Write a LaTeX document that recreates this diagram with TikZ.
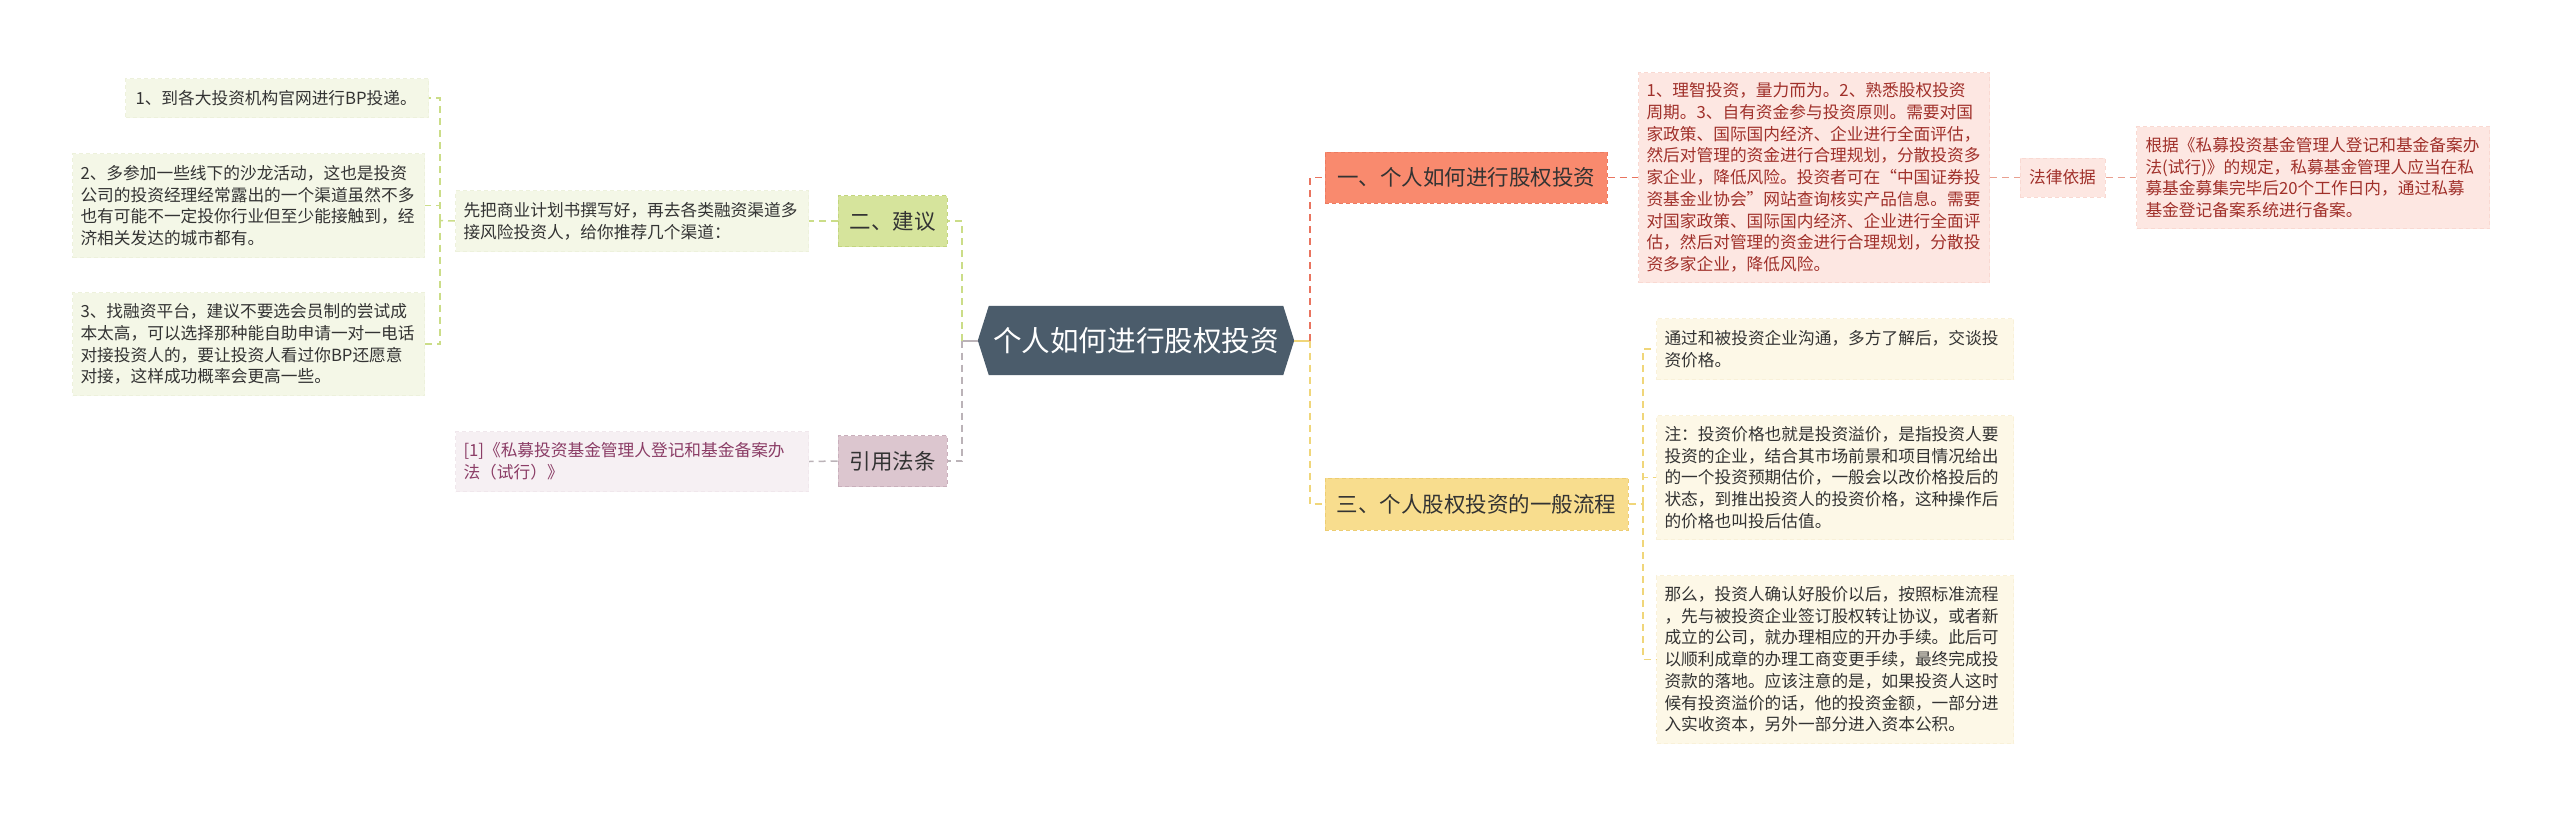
\documentclass[tikz,border=0pt]{standalone}
\usepackage{fontspec}
\newfontfamily\cjk{Noto Sans CJK SC}
\usetikzlibrary{backgrounds}
\definecolor{hexc}{HTML}{4B5C6B}
\definecolor{onec}{HTML}{F98A6E}
\definecolor{oneb}{HTML}{EC7A60}
\definecolor{pinkc}{HTML}{FDE7E2}
\definecolor{pinkb}{HTML}{F9D9D2}
\definecolor{pinkt}{HTML}{A0302A}
\definecolor{threec}{HTML}{F8DD8E}
\definecolor{threeb}{HTML}{EDCD72}
\definecolor{yelc}{HTML}{FDF8E7}
\definecolor{yelb}{HTML}{F9F1D9}
\definecolor{jyc}{HTML}{D6E49C}
\definecolor{jyb}{HTML}{C3D57E}
\definecolor{grnc}{HTML}{F4F7E7}
\definecolor{grnb}{HTML}{EDF1DC}
\definecolor{yyc}{HTML}{DCC6CF}
\definecolor{yyb}{HTML}{C9AFBB}
\definecolor{citc}{HTML}{F6F0F3}
\definecolor{citb}{HTML}{F0E7EC}
\definecolor{citt}{HTML}{8B3D66}
\definecolor{txt}{HTML}{333333}
\definecolor{cred}{HTML}{E9745F}
\definecolor{cgrn}{HTML}{CBDD88}
\definecolor{cgry}{HTML}{BBB3B8}
\definecolor{cyel}{HTML}{F0D67A}
\definecolor{cpnk}{HTML}{E9A090}
\tikzset{
  small/.style={font=\cjk\fontsize{16.7}{21.7}\selectfont, align=left, inner xsep=8pt, inner ysep=0pt, anchor=north west, text=txt},
  big/.style={font=\cjk\fontsize{21.5}{26}\selectfont, inner sep=0pt, text=txt, draw, dash pattern=on 4pt off 3pt, line width=1pt},
  conn/.style={line width=1.5pt, dash pattern=on 7pt off 5pt},
  bdr/.style={draw, dash pattern=on 4pt off 3pt, line width=1pt},
}
\begin{document}
\begin{tikzpicture}[x=1pt,y=-1pt]
\useasboundingbox (0,0) rectangle (2560,815);
\begin{scope}[on background layer]
\fill[white] (0,0) rectangle (2560,815);
\end{scope}

% centre
\node[font=\cjk\fontsize{28.6}{32}\selectfont, text=white, inner sep=0pt, minimum width=316pt, minimum height=69pt] (c) at (1136,340.5) {个人如何进行股权投资};
\begin{scope}[on background layer]
\fill[hexc] ([xshift=11pt]c.north west) -- ([xshift=-11pt]c.north east) -- (c.east) -- ([xshift=-11pt]c.south east) -- ([xshift=11pt]c.south west) -- (c.west) -- cycle;
\end{scope}
\coordinate (lt) at (962,340.5);
\coordinate (rt) at (1310,340.5);
\coordinate (lb) at (440,220.5);
\coordinate (yb) at (1643,504);

% left side
\node[big, fill=jyc, draw=jyb, minimum width=109pt, minimum height=51pt] (jy) at (892.5,221) {二、建议};
\node[big, fill=yyc, draw=yyb, minimum width=109pt, minimum height=51pt] (yy) at (892.5,461) {引用法条};
\node[small, fill=grnc, bdr, draw=grnb, text width=337pt, minimum height=61pt] (T) at (455,190) {先把商业计划书撰写好，再去各类融资渠道多\\接风险投资人，给你推荐几个渠道：};
\node[small, fill=citc, bdr, draw=citb, text=citt, text width=337pt, minimum height=60pt] (cite) at (455,431) {[1]《私募投资基金管理人登记和基金备案办\\法（试行）》};
\node[small, fill=grnc, bdr, draw=grnb, text width=283pt, minimum height=39pt, inner xsep=10pt] (L1) at (125,78) {1、到各大投资机构官网进行BP投递。};
\node[small, fill=grnc, bdr, draw=grnb, text width=336pt, minimum height=104pt] (L2) at (72,153) {2、多参加一些线下的沙龙活动，这也是投资\\公司的投资经理经常露出的一个渠道虽然不多\\也有可能不一定投你行业但至少能接触到，经\\济相关发达的城市都有。};
\node[small, fill=grnc, bdr, draw=grnb, text width=336pt, minimum height=103pt] (L3) at (72,292) {3、找融资平台，建议不要选会员制的尝试成\\本太高，可以选择那种能自助申请一对一电话\\对接投资人的，要让投资人看过你BP还愿意\\对接，这样成功概率会更高一些。};

% right side
\node[big, fill=onec, draw=oneb, minimum width=282pt, minimum height=51pt] (one) at (1466,177.5) {一、个人如何进行股权投资};
\node[big, fill=threec, draw=threeb, minimum width=303pt, minimum height=52pt] (three) at (1476.5,504) {三、个人股权投资的一般流程};
\node[small, fill=pinkc, bdr, draw=pinkb, text=pinkt, text width=335pt, minimum height=210pt] (pk) at (1638,72) {1、理智投资，量力而为。2、熟悉股权投资\\周期。3、自有资金参与投资原则。需要对国\\家政策、国际国内经济、企业进行全面评估，\\然后对管理的资金进行合理规划，分散投资多\\家企业，降低风险。投资者可在“中国证券投\\资基金业协会”网站查询核实产品信息。需要\\对国家政策、国际国内经济、企业进行全面评\\估，然后对管理的资金进行合理规划，分散投\\资多家企业，降低风险。};
\node[font=\cjk\fontsize{16.7}{21.7}\selectfont, text=pinkt, fill=pinkc, bdr, draw=pinkb, inner sep=0pt, minimum width=85pt, minimum height=39pt] (law) at (2062.5,177.5) {法律依据};
\node[small, fill=pinkc, bdr, draw=pinkb, text=pinkt, text width=335pt, minimum height=102pt, inner xsep=9pt] (R) at (2136,126) {根据《私募投资基金管理人登记和基金备案办\\法(试行)》的规定，私募基金管理人应当在私\\募基金募集完毕后20个工作日内，通过私募\\基金登记备案系统进行备案。};
\node[small, fill=yelc, bdr, draw=yelb, text width=341pt, minimum height=61pt] (Y1) at (1656,318) {通过和被投资企业沟通，多方了解后，交谈投\\资价格。};
\node[small, fill=yelc, bdr, draw=yelb, text width=341pt, minimum height=124pt] (Y2) at (1656,415) {注：投资价格也就是投资溢价，是指投资人要\\投资的企业，结合其市场前景和项目情况给出\\的一个投资预期估价，一般会以改价格投后的\\状态，到推出投资人的投资价格，这种操作后\\的价格也叫投后估值。};
\node[small, fill=yelc, bdr, draw=yelb, text width=341pt, minimum height=168pt] (Y3) at (1656,575) {那么，投资人确认好股价以后，按照标准流程\\，先与被投资企业签订股权转让协议，或者新\\成立的公司，就办理相应的开办手续。此后可\\以顺利成章的办理工商变更手续，最终完成投\\资款的落地。应该注意的是，如果投资人这时\\候有投资溢价的话，他的投资金额，一部分进\\入实收资本，另外一部分进入资本公积。};

% connectors
\begin{scope}[on background layer]
\draw[cgry, line width=2pt] (c.west) -- (lt);
\draw[cyel, line width=2pt] (c.east) -- (rt);
\draw[conn, cgrn] (lt) |- (jy.east);
\draw[conn, cgry] (lt) |- (yy.east);
\draw[conn, cgrn] (jy.west) -- (T.east);
\draw[conn, cgry] (yy.west) -- (cite.east);
\draw[conn, cgrn] (T.west) -- (lb);
\draw[conn, cgrn] (lb) |- (L1.east);
\draw[conn, cgrn] (lb) |- (L2.east);
\draw[conn, cgrn] (lb) |- (L3.east);
\draw[conn, cred] (rt) |- (one.west);
\draw[conn, cyel] (rt) |- (three.west);
\draw[conn, cred] (one.east) -- (pk.west);
\draw[conn, cpnk] (pk.east) -- (law.west);
\draw[conn, cpnk] (law.east) -- (R.west);
\draw[conn, cyel] (three.east) -- (yb);
\draw[conn, cyel] (yb) |- (Y1.west);
\draw[conn, cyel] (yb) |- (Y2.west);
\draw[conn, cyel] (yb) |- (Y3.west);
\end{scope}
\end{tikzpicture}
\end{document}
